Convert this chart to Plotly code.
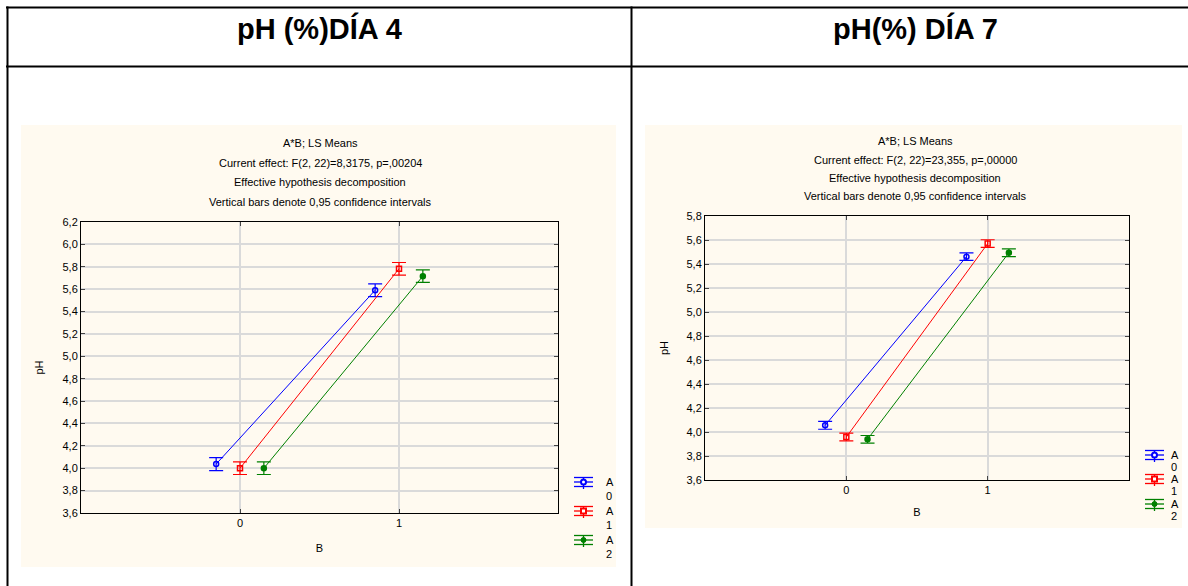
import plotly.graph_objects as go

W, H = 1188, 586

# ---- data -------------------------------------------------------------
b_levels = [0, 1]
a_labels = ["0", "1", "2"]
a_colors = ["#0000FF", "#FF0000", "#008000"]
a_offsets = [-0.15, 0.0, 0.15]

# Day 4: LS means of pH for A = 0, 1, 2 at B = 0, 1 and 95% CI half-widths
day4_a0 = [4.037, 5.591]
day4_a1 = [4.000, 5.782]
day4_a2 = [4.000, 5.716]
day4_ci_a0 = [0.058, 0.057]
day4_ci_a1 = [0.056, 0.056]
day4_ci_a2 = [0.056, 0.056]

# Day 7
day7_a0 = [4.056, 5.461]
day7_a1 = [3.958, 5.570]
day7_a2 = [3.939, 5.494]
day7_ci_a0 = [0.033, 0.031]
day7_ci_a1 = [0.032, 0.032]
day7_ci_a2 = [0.032, 0.032]

day4_ticks = [3.6, 3.8, 4.0, 4.2, 4.4, 4.6, 4.8, 5.0, 5.2, 5.4, 5.6, 5.8, 6.0, 6.2]
day7_ticks = [3.6, 3.8, 4.0, 4.2, 4.4, 4.6, 4.8, 5.0, 5.2, 5.4, 5.6, 5.8]

headers = ["pH (%)DÍA 4", "pH(%) DÍA 7"]
day4_lines = ["A*B; LS Means",
              "Current effect: F(2, 22)=8,3175, p=,00204",
              "Effective hypothesis decomposition",
              "Vertical bars denote 0,95 confidence intervals"]
day7_lines = ["A*B; LS Means",
              "Current effect: F(2, 22)=23,355, p=,00000",
              "Effective hypothesis decomposition",
              "Vertical bars denote 0,95 confidence intervals"]

FONT = "Liberation Sans, Arial, sans-serif"
CREAM = "#FFFAF0"
GRID = "#DADADA"


def px(x):
    return x / W


def py(y):
    return 1 - y / H


fig = go.Figure()

# ---- series -----------------------------------------------------------
symbols = ["circle-open", "square-open", "circle"]
panels = [
    ("x", "y", [day4_a0, day4_a1, day4_a2], [day4_ci_a0, day4_ci_a1, day4_ci_a2]),
    ("x2", "y2", [day7_a0, day7_a1, day7_a2], [day7_ci_a0, day7_ci_a1, day7_ci_a2]),
]
for xa, ya, means, cis in panels:
    for i in range(3):
        fig.add_trace(go.Scatter(
            x=[b + a_offsets[i] for b in b_levels],
            y=means[i],
            xaxis=xa, yaxis=ya,
            mode="lines+markers",
            line=dict(color=a_colors[i], width=1),
            marker=dict(symbol=symbols[i], size=5,
                        color=a_colors[i], line=dict(width=1.5, color=a_colors[i])),
            error_y=dict(type="data", array=cis[i], visible=True,
                         color=a_colors[i], thickness=1.2, width=7),
            showlegend=False, hoverinfo="skip",
        ))

# ---- axes -------------------------------------------------------------
common_x = dict(range=[-1, 2], tickvals=b_levels, showgrid=True, gridcolor=GRID,
                gridwidth=2, zeroline=False, showline=True, linecolor="#000000",
                linewidth=1, mirror="allticks", ticks="inside", ticklen=4,
                tickcolor="#444444", tickfont=dict(family=FONT, size=11, color="#000"),
                title=dict(text="B", font=dict(family=FONT, size=11, color="#000")),
                automargin=False, fixedrange=True)
common_y = dict(showgrid=True, gridcolor=GRID, gridwidth=2, zeroline=False,
                showline=True, linecolor="#000000", linewidth=1, mirror="allticks",
                ticks="inside", ticklen=4, tickcolor="#444444", tickformat=".1f",
                tickfont=dict(family=FONT, size=11, color="#000"),
                title=dict(text="pH", font=dict(family=FONT, size=11, color="#000")),
                automargin=False, fixedrange=True)

fig.update_layout(
    xaxis=dict(common_x, domain=[px(81), px(558)], anchor="y",
               title_standoff=16),
    yaxis=dict(common_y, domain=[py(513), py(222)], anchor="x",
               range=[day4_ticks[0], day4_ticks[-1]], tickvals=day4_ticks,
               title_standoff=16),
    xaxis2=dict(common_x, domain=[px(705), px(1129)], anchor="y2",
                title_standoff=13),
    yaxis2=dict(common_y, domain=[py(480), py(216)], anchor="x2",
                range=[day7_ticks[0], day7_ticks[-1]], tickvals=day7_ticks,
                title_standoff=15),
)

# ---- background panels, table rules -----------------------------------
shapes = []
shapes.append(dict(type="rect", xref="paper", yref="paper", layer="below",
                   x0=px(21), x1=px(616), y0=py(567), y1=py(125),
                   fillcolor=CREAM, line=dict(width=0)))
shapes.append(dict(type="rect", xref="paper", yref="paper", layer="below",
                   x0=px(645), x1=px(1182), y0=py(528), y1=py(125),
                   fillcolor=CREAM, line=dict(width=0)))
rule = dict(color="#000000", width=2)
shapes.append(dict(type="line", xref="paper", yref="paper", x0=px(6), x1=1,
                   y0=py(7.5), y1=py(7.5), line=rule))
shapes.append(dict(type="line", xref="paper", yref="paper", x0=px(6), x1=1,
                   y0=py(66.5), y1=py(66.5), line=rule))
shapes.append(dict(type="line", xref="paper", yref="paper", x0=px(7.5), x1=px(7.5),
                   y0=py(6.5), y1=0, line=rule))
shapes.append(dict(type="line", xref="paper", yref="paper", x0=px(631.5), x1=px(631.5),
                   y0=py(6.5), y1=0, line=rule))

annotations = []
for text, cx in zip(headers, [319, 915]):
    annotations.append(dict(xref="paper", yref="paper", x=px(cx), y=py(28),
                            text="<b>%s</b>" % text, showarrow=False,
                            xanchor="center", yanchor="middle",
                            font=dict(family=FONT, size=29, color="#000")))

for lines, cx, ys in [(day4_lines, 320, [143, 163, 182, 202]),
                      (day7_lines, 915, [141, 160, 178, 196])]:
    for t, yy in zip(lines, ys):
        annotations.append(dict(xref="paper", yref="paper", x=px(cx), y=py(yy),
                                text=t, showarrow=False, xanchor="center",
                                yanchor="middle",
                                font=dict(family=FONT, size=11, color="#000")))

# ---- legends (error-bar glyph + two-line label) ------------------------
legend_specs = [(574, 604, [482, 511, 540], 14),
                (1145, 1169, [455, 479, 504], 11.5)]
for gx, tx, cys, dy in legend_specs:
    for i, cy in enumerate(cys):
        col = a_colors[i]
        gw = 19
        cx = gx + gw / 2
        ln = dict(color=col, width=1.3)
        for yy in (cy - 4.5, cy, cy + 4.5):
            shapes.append(dict(type="line", xref="paper", yref="paper",
                               x0=px(gx), x1=px(gx + gw), y0=py(yy), y1=py(yy),
                               line=ln))
        shapes.append(dict(type="line", xref="paper", yref="paper",
                           x0=px(cx), x1=px(cx), y0=py(cy - 4.5), y1=py(cy + 7),
                           line=ln))
        r = 2.5
        if i == 1:
            shapes.append(dict(type="rect", xref="paper", yref="paper",
                               x0=px(cx - r), x1=px(cx + r), y0=py(cy + r), y1=py(cy - r),
                               fillcolor="#FFFFFF", line=dict(color=col, width=2)))
        else:
            shapes.append(dict(type="circle", xref="paper", yref="paper",
                               x0=px(cx - r), x1=px(cx + r), y0=py(cy + r), y1=py(cy - r),
                               fillcolor="#FFFFFF" if i == 0 else col,
                               line=dict(color=col, width=2 if i == 0 else 1)))
        annotations.append(dict(xref="paper", yref="paper", x=px(tx), y=py(cy),
                                text="A", showarrow=False, xanchor="left",
                                yanchor="middle",
                                font=dict(family=FONT, size=11, color="#000")))
        annotations.append(dict(xref="paper", yref="paper", x=px(tx), y=py(cy + dy),
                                text=a_labels[i], showarrow=False, xanchor="left",
                                yanchor="middle",
                                font=dict(family=FONT, size=11, color="#000")))

fig.update_layout(
    width=W, height=H, autosize=False,
    margin=dict(l=0, r=0, t=0, b=0, pad=0, autoexpand=False),
    paper_bgcolor="#FFFFFF", plot_bgcolor="#FFFFFF",
    separators=", ",
    showlegend=False,
    shapes=shapes, annotations=annotations,
    font=dict(family=FONT, size=11, color="#000"),
)

fig.write_html(
    "out.html",
    config=dict(displayModeBar=False),
    post_script="document.body.style.margin='0';document.body.style.overflow='hidden';",
)
